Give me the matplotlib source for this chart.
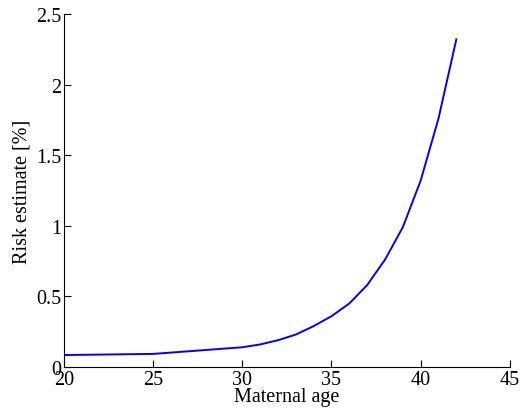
import matplotlib
matplotlib.use("Agg")
import matplotlib.pyplot as plt

# Risk estimate by maternal age
age = [20, 25, 30, 31, 32, 33, 34, 35, 36, 37, 38, 39, 40, 41, 42]
risk = [0.085, 0.093, 0.14, 0.16, 0.19, 0.23, 0.29, 0.36, 0.45, 0.58,
        0.76, 0.99, 1.32, 1.76, 2.32]

plt.rcParams['font.family'] = ['Liberation Serif', 'DejaVu Serif']
plt.rcParams['font.size'] = 14.5

fig = plt.figure(figsize=(5.24, 4.14), dpi=100)
ax = fig.add_axes([0.122, 0.111, 0.851, 0.853])
ax.plot(age, risk, color=(0, 0, 1), linewidth=1.4)

ax.set_xlim(20, 45)
ax.set_ylim(0, 2.5)
ax.set_xticks([20, 25, 30, 35, 40, 45])
ax.set_yticks([0, 0.5, 1, 1.5, 2, 2.5])
ax.set_yticklabels(['0', '0.5', '1', '1.5', '2', '2.5'])
ax.spines['top'].set_visible(False)
ax.spines['right'].set_visible(False)
ax.tick_params(direction='in', length=5, width=0.8, pad=2)
ax.set_xlabel("Maternal age", labelpad=-1)
ax.set_ylabel("Risk estimate [%]", labelpad=3)

fig.savefig("out.png", dpi=100)
